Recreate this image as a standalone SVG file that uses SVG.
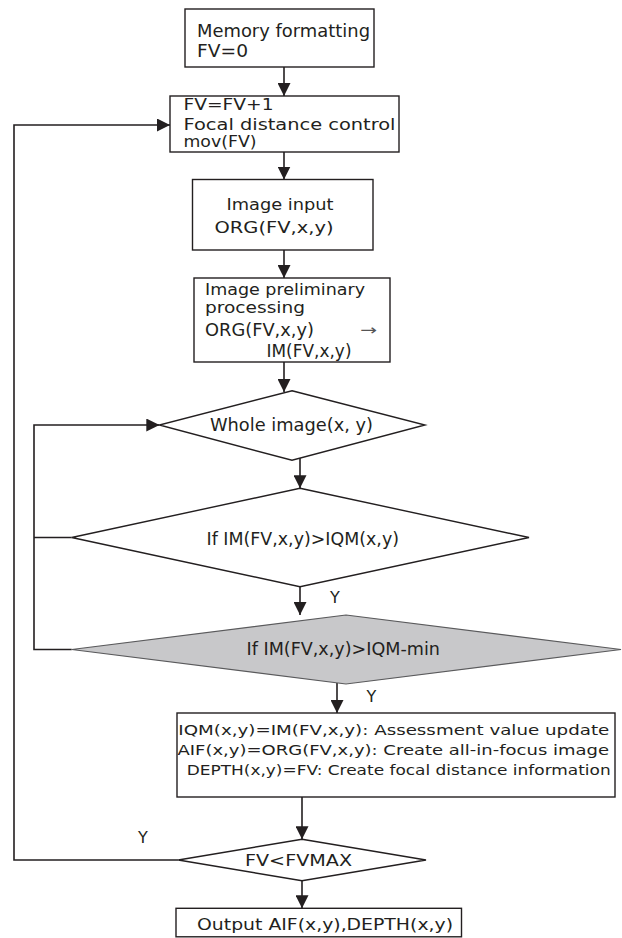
<svg xmlns="http://www.w3.org/2000/svg" width="622" height="938" viewBox="0 0 622 938">
<style>
  .box { fill: #ffffff; stroke: #231f20; stroke-width: 1.4; }
  .dia { fill: #ffffff; stroke: #231f20; stroke-width: 1.4; }
  .dia-gray { fill: #c8c8ca; stroke: #5a5a5c; stroke-width: 1.2; }
  .con { fill: none; stroke: #231f20; stroke-width: 1.6; }
  text { font-family: "DejaVu Sans", "Liberation Sans", sans-serif; fill: #231f20; }
  .t18 { font-size: 18px; }
  .t17 { font-size: 17px; }
  .t16 { font-size: 16px; }
  .t15 { font-size: 15px; }
  .t14 { font-size: 14.5px; }
</style>
<defs>
  <marker id="arrow" markerUnits="userSpaceOnUse" markerWidth="13" markerHeight="13" refX="13" refY="6.5" orient="auto">
    <path d="M0,0 L13,6.5 L0,13 Z" fill="#231f20"/>
  </marker>
</defs>

<g id="connectors">
  <path class="con" d="M284,67 V96" marker-end="url(#arrow)"/>
  <path class="con" d="M284,152 V179.5" marker-end="url(#arrow)"/>
  <path class="con" d="M284,250 V278" marker-end="url(#arrow)"/>
  <path class="con" d="M284,362 V392" marker-end="url(#arrow)"/>
  <path class="con" d="M300,458 V488.3" marker-end="url(#arrow)"/>
  <path class="con" d="M300,586.7 V615" marker-end="url(#arrow)"/>
  <path class="con" d="M337,683 V713" marker-end="url(#arrow)"/>
  <path class="con" d="M302,797 V839.3" marker-end="url(#arrow)"/>
  <path class="con" d="M302,880.7 V908.3" marker-end="url(#arrow)"/>
  <path class="con" d="M178.3,860 H14 V125 H170" marker-end="url(#arrow)"/>
  <path class="con" d="M71.7,649.5 H34 V425 H159.3" marker-end="url(#arrow)"/>
  <path class="con" d="M71.7,537.5 H34"/>
  <text class="t16" x="330" y="603">Y</text>
  <text class="t16" x="366.5" y="702">Y</text>
  <text class="t16" x="138" y="843">Y</text>
</g>

<g id="memory-formatting">
  <rect class="box" x="185" y="9" width="189" height="58"/>
  <text class="t18" x="197" y="36.5" textLength="173" lengthAdjust="spacingAndGlyphs">Memory formatting</text>
  <text class="t18" x="197" y="56.5" textLength="51" lengthAdjust="spacingAndGlyphs">FV=0</text>
</g>

<g id="focal-control">
  <rect class="box" x="170" y="96" width="229" height="56"/>
  <text class="t16" x="183.5" y="110" textLength="90" lengthAdjust="spacingAndGlyphs">FV=FV+1</text>
  <text class="t16" x="183.5" y="129.5" textLength="212" lengthAdjust="spacingAndGlyphs">Focal distance control</text>
  <text class="t16" x="183.5" y="147" textLength="73" lengthAdjust="spacingAndGlyphs">mov(FV)</text>
</g>

<g id="image-input">
  <rect class="box" x="192.5" y="179.5" width="180.5" height="70.5"/>
  <text class="t16" x="226.5" y="210" textLength="107" lengthAdjust="spacingAndGlyphs">Image input</text>
  <text class="t16" x="214.5" y="233" textLength="119" lengthAdjust="spacingAndGlyphs">ORG(FV,x,y)</text>
</g>

<g id="preprocessing">
  <rect class="box" x="194" y="278" width="196" height="84"/>
  <text class="t16" x="205" y="295" textLength="160" lengthAdjust="spacingAndGlyphs">Image preliminary</text>
  <text class="t16" x="205" y="313" textLength="100" lengthAdjust="spacingAndGlyphs">processing</text>
  <text class="t17" x="205" y="336" textLength="109" lengthAdjust="spacingAndGlyphs">ORG(FV,x,y)</text>
  <text class="t14" x="360" y="335" textLength="17" lengthAdjust="spacingAndGlyphs" style="fill:#555">→</text>
  <text class="t17" x="266.5" y="356.5" textLength="85" lengthAdjust="spacingAndGlyphs">IM(FV,x,y)</text>
</g>

<g id="whole-image">
  <polygon class="dia" points="292,390.7 425,425 292,460.3 159.3,425"/>
  <text class="t17" x="210" y="430.5" textLength="163" lengthAdjust="spacingAndGlyphs">Whole image(x, y)</text>
</g>

<g id="if-iqm">
  <polygon class="dia" points="300,488.3 529,537.5 300,586.7 71.7,537.5"/>
  <text class="t17" x="206.5" y="545" textLength="192.5" lengthAdjust="spacingAndGlyphs">If IM(FV,x,y)&gt;IQM(x,y)</text>
</g>

<g id="if-iqm-min">
  <polygon class="dia-gray" points="346,615 621,649.5 346,684 71.7,649.5"/>
  <text class="t17" x="246.5" y="655" textLength="193.5" lengthAdjust="spacingAndGlyphs">If IM(FV,x,y)&gt;IQM-min</text>
</g>

<g id="update">
  <rect class="box" x="177" y="713" width="438" height="84"/>
  <text class="t14" x="178.3" y="735" textLength="431" lengthAdjust="spacingAndGlyphs">IQM(x,y)=IM(FV,x,y): Assessment value update</text>
  <text class="t14" x="177.5" y="754.5" textLength="431.5" lengthAdjust="spacingAndGlyphs">AIF(x,y)=ORG(FV,x,y): Create all-in-focus image</text>
  <text class="t14" x="186.7" y="774.5" textLength="424" lengthAdjust="spacingAndGlyphs">DEPTH(x,y)=FV: Create focal distance information</text>
</g>

<g id="fv-max">
  <polygon class="dia" points="302,839.3 426,860 302,880.7 178.3,860"/>
  <text class="t16" x="245" y="865.5" textLength="107" lengthAdjust="spacingAndGlyphs">FV&lt;FVMAX</text>
</g>

<g id="output">
  <rect class="box" x="176" y="908.3" width="285.5" height="28.5"/>
  <text class="t16" x="197" y="930" textLength="256" lengthAdjust="spacingAndGlyphs">Output AIF(x,y),DEPTH(x,y)</text>
</g>
</svg>
